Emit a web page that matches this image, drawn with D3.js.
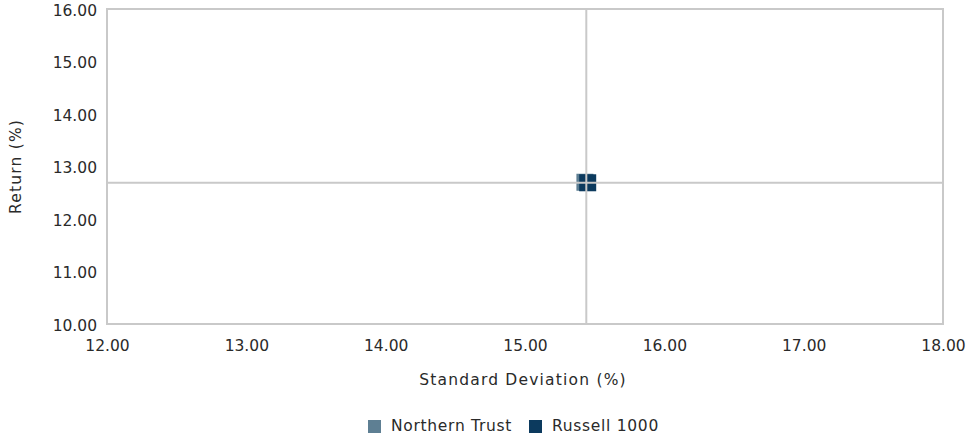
<!DOCTYPE html>
<html>
<head>
<meta charset="utf-8">
<script src="https://cdn.jsdelivr.net/npm/d3@7"></script>
<style>
  html, body { margin: 0; padding: 0; background: #fff; }
  svg text { font-family: "DejaVu Sans", "Open Sans", sans-serif; fill: #2a2a2a; }
</style>
</head>
<body>
<svg id="chart" width="968" height="435"></svg>
<script>
// Risk / return values
const seriesNames = ["Northern Trust", "Russell 1000"];
const stdDev = [15.43, 15.45];
const returns = [12.70, 12.69];
const seriesColors = ["#5e7f93", "#0c3a5e"];
// Benchmark crosshair (Russell 1000)
const crossX = [15.44];
const crossY = [12.69];
const xTicks = [12, 13, 14, 15, 16, 17, 18];
const yTicks = [10, 11, 12, 13, 14, 15, 16];

const svg = d3.select("#chart");
const m = { left: 107, right: 25, top: 9, bottom: 111 };
const W = 968, H = 435;
const x = d3.scaleLinear().domain([12, 18]).range([m.left, W - m.right]);
const y = d3.scaleLinear().domain([10, 16]).range([H - m.bottom, m.top]);
const gridColor = "#c9c9c9";
const fontSize = "15.5px";

// Plot frame
svg.append("rect")
  .attr("x", x(12)).attr("y", y(16))
  .attr("width", x(18) - x(12)).attr("height", y(10) - y(16))
  .attr("fill", "none").attr("stroke", gridColor).attr("stroke-width", 2);

// Axes (labels only; frame draws the lines)
const xAxis = svg.append("g").attr("transform", `translate(0,${y(10)})`)
  .call(d3.axisBottom(x).tickValues(xTicks).tickFormat(d3.format(".2f")).tickSize(0).tickPadding(16));
const yAxis = svg.append("g").attr("transform", `translate(${x(12)},0)`)
  .call(d3.axisLeft(y).tickValues(yTicks).tickFormat(d3.format(".2f")).tickSize(0).tickPadding(10));
[xAxis, yAxis].forEach(a => {
  a.select(".domain").remove();
  a.selectAll("text").style("font-size", fontSize).attr("fill", "#2a2a2a")
    .style("font-family", "'DejaVu Sans', sans-serif");
});
yAxis.selectAll("text").attr("dy", "0.4em");

// Scatter markers
const pts = seriesNames.map((n, i) => ({ name: n, sd: stdDev[i], ret: returns[i], color: seriesColors[i] }));
const size = 17;
svg.append("g").selectAll("rect").data(pts).join("rect")
  .attr("x", d => x(d.sd) - size / 2)
  .attr("y", d => y(d.ret) - size / 2)
  .attr("width", size).attr("height", size)
  .attr("fill", d => d.color);

// Crosshair through the benchmark
svg.append("line")
  .attr("x1", x(crossX[0])).attr("x2", x(crossX[0]))
  .attr("y1", y(16)).attr("y2", y(10))
  .attr("stroke", gridColor).attr("stroke-width", 2);
svg.append("line")
  .attr("x1", x(12)).attr("x2", x(18))
  .attr("y1", y(crossY[0])).attr("y2", y(crossY[0]))
  .attr("stroke", gridColor).attr("stroke-width", 2);

// Axis titles
svg.append("text")
  .attr("x", (x(12) + x(18)) / 2 - 2).attr("y", 385)
  .attr("text-anchor", "middle").style("font-size", fontSize)
  .style("letter-spacing", "1.2px")
  .text("Standard Deviation (%)");
svg.append("text")
  .attr("transform", `translate(21,${(y(10) + y(16)) / 2}) rotate(-90)`)
  .attr("text-anchor", "middle").style("font-size", fontSize)
  .style("letter-spacing", "1.2px")
  .text("Return  (%)");

// Legend
const legend = svg.append("g").attr("transform", "translate(368,426)");
const legX = [0, 161];
pts.forEach((d, i) => {
  const g = legend.append("g").attr("transform", `translate(${legX[i]},0)`);
  g.append("rect").attr("x", 0).attr("y", -6).attr("width", 13).attr("height", 13).attr("fill", d.color);
  g.append("text").attr("x", 23).attr("y", 0).attr("dy", "0.35em")
    .style("font-size", fontSize).style("letter-spacing", "0.7px").text(d.name);
});
</script>
</body>
</html>
